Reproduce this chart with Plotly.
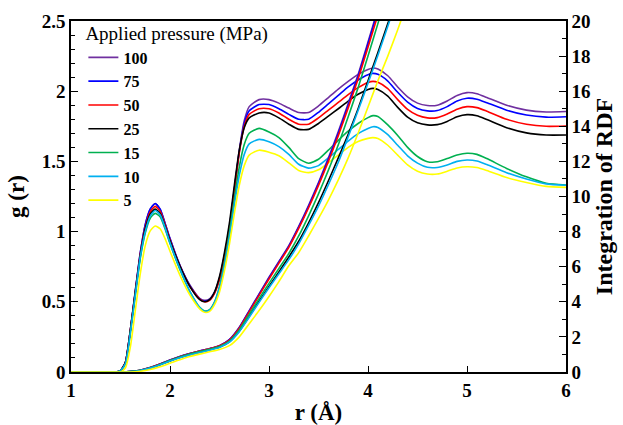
import plotly.graph_objects as go

# ---------------- data ----------------
PRESSURES = ["100", "75", "50", "25", "15", "10", "5"]
COLORS = ["#7030A0", "#0000FF", "#FF0000", "#000000", "#00B050", "#00B0F0", "#FFFF00"]

R_G = [1.0, 1.45, 1.5, 1.55, 1.6, 1.65, 1.7, 1.75, 1.8, 1.85,
       1.9, 1.95, 2.0, 2.1, 2.2, 2.3, 2.35, 2.4, 2.45, 2.5,
       2.55, 2.6, 2.65, 2.7, 2.75, 2.8, 2.9, 3.0, 3.1, 3.2,
       3.3, 3.4, 3.5, 3.6, 3.7, 3.8, 3.9, 4.0, 4.05, 4.1,
       4.2, 4.3, 4.4, 4.5, 4.6, 4.7, 4.8, 4.9, 5.0, 5.1,
       5.2, 5.4, 5.6, 5.8, 6.0]

G_100 = [0, 0, 0.01, 0.07, 0.3, 0.58, 0.85, 1.05, 1.16, 1.2,
         1.16, 1.06, 0.95, 0.76, 0.62, 0.525, 0.51, 0.52, 0.57, 0.67,
         0.83, 1.03, 1.3, 1.58, 1.79, 1.89, 1.94, 1.94, 1.915, 1.88,
         1.848, 1.848, 1.895, 1.955, 2.015, 2.07, 2.12, 2.155, 2.165, 2.158,
         2.11, 2.03, 1.96, 1.915, 1.898, 1.9, 1.93, 1.97, 1.99, 1.982,
         1.955, 1.9, 1.865, 1.852, 1.855]
G_75 = [0, 0, 0.01, 0.07, 0.3, 0.58, 0.85, 1.05, 1.16, 1.2,
        1.16, 1.06, 0.95, 0.76, 0.615, 0.52, 0.505, 0.515, 0.565, 0.665,
        0.825, 1.03, 1.3, 1.57, 1.77, 1.86, 1.905, 1.905, 1.875, 1.835,
        1.8, 1.8, 1.85, 1.91, 1.97, 2.03, 2.08, 2.118, 2.127, 2.12,
        2.072, 1.992, 1.922, 1.877, 1.86, 1.862, 1.89, 1.93, 1.95, 1.943,
        1.918, 1.865, 1.83, 1.815, 1.818]
G_50 = [0, 0, 0.01, 0.07, 0.3, 0.57, 0.84, 1.03, 1.14, 1.18,
        1.145, 1.05, 0.94, 0.755, 0.61, 0.52, 0.5, 0.51, 0.56, 0.66,
        0.82, 1.02, 1.29, 1.56, 1.75, 1.835, 1.875, 1.875, 1.845, 1.8,
        1.765, 1.765, 1.81, 1.865, 1.92, 1.975, 2.025, 2.062, 2.07, 2.063,
        2.018, 1.94, 1.87, 1.828, 1.81, 1.812, 1.838, 1.872, 1.89, 1.883,
        1.858, 1.8, 1.765, 1.75, 1.752]
G_25 = [0, 0, 0.01, 0.07, 0.3, 0.57, 0.83, 1.02, 1.125, 1.16,
        1.13, 1.04, 0.935, 0.755, 0.61, 0.515, 0.5, 0.515, 0.57, 0.68,
        0.85, 1.06, 1.33, 1.58, 1.74, 1.81, 1.845, 1.845, 1.81, 1.765,
        1.728, 1.728, 1.77, 1.822, 1.875, 1.93, 1.978, 2.012, 2.02, 2.012,
        1.965, 1.885, 1.815, 1.775, 1.76, 1.762, 1.785, 1.818, 1.833, 1.825,
        1.798, 1.74, 1.703, 1.688, 1.688]
G_15 = [0, 0, 0.01, 0.06, 0.28, 0.55, 0.81, 0.99, 1.095, 1.13,
        1.105, 1.02, 0.915, 0.73, 0.575, 0.46, 0.435, 0.445, 0.5, 0.61,
        0.78, 0.99, 1.23, 1.46, 1.62, 1.7, 1.735, 1.71, 1.67, 1.6,
        1.52, 1.487, 1.515, 1.58, 1.65, 1.715, 1.77, 1.812, 1.826, 1.82,
        1.76, 1.685, 1.6, 1.535, 1.498, 1.497, 1.52, 1.545, 1.558, 1.55,
        1.52, 1.45, 1.39, 1.345, 1.332]
G_10 = [0, 0, 0.01, 0.06, 0.28, 0.55, 0.82, 1.0, 1.11, 1.15,
        1.12, 1.03, 0.92, 0.735, 0.575, 0.46, 0.432, 0.44, 0.495, 0.6,
        0.76, 0.96, 1.19, 1.4, 1.55, 1.625, 1.657, 1.64, 1.605, 1.55,
        1.48, 1.452, 1.47, 1.525, 1.585, 1.645, 1.698, 1.735, 1.747, 1.742,
        1.69, 1.615, 1.54, 1.488, 1.458, 1.457, 1.475, 1.5, 1.51, 1.503,
        1.478, 1.42, 1.375, 1.34, 1.33]
G_5 = [0, 0, 0.0, 0.03, 0.18, 0.44, 0.7, 0.9, 1.005, 1.04,
       1.02, 0.95, 0.86, 0.69, 0.55, 0.45, 0.425, 0.432, 0.48, 0.57,
       0.72, 0.91, 1.13, 1.33, 1.47, 1.545, 1.58, 1.565, 1.54, 1.49,
       1.435, 1.42, 1.44, 1.49, 1.545, 1.6, 1.642, 1.664, 1.669, 1.663,
       1.615, 1.545, 1.475, 1.43, 1.41, 1.41, 1.43, 1.453, 1.462, 1.456,
       1.435, 1.385, 1.35, 1.322, 1.315]

R_N = [1.0, 1.5, 1.6, 1.7, 1.8, 1.9, 2.0, 2.1, 2.2, 2.3,
       2.4, 2.5, 2.6, 2.7, 2.8, 2.9, 3.0, 3.1, 3.2, 3.3,
       3.4, 3.5, 3.6, 3.7, 3.8, 3.9, 4.0, 4.1, 4.2, 4.3,
       4.4, 4.5]

N_100 = [0, 0, 0.02, 0.1, 0.25, 0.45, 0.68, 0.88, 1.05, 1.2,
         1.33, 1.5, 1.85, 2.55, 3.5, 4.45, 5.4, 6.3, 7.2, 8.3,
         9.5, 10.8, 12.2, 13.7, 15.3, 16.95, 18.8, 20.7, 22.6, 24.6,
         26.6, 28.6]
N_75 = [0, 0, 0.02, 0.1, 0.25, 0.45, 0.68, 0.88, 1.05, 1.2,
        1.33, 1.5, 1.84, 2.53, 3.47, 4.42, 5.36, 6.26, 7.16, 8.25,
        9.44, 10.73, 12.12, 13.6, 15.2, 16.85, 18.7, 20.6, 22.5, 24.5,
        26.5, 28.5]
N_50 = [0, 0, 0.02, 0.1, 0.25, 0.45, 0.67, 0.87, 1.04, 1.19,
        1.32, 1.49, 1.82, 2.5, 3.43, 4.37, 5.3, 6.2, 7.1, 8.18,
        9.36, 10.63, 12.0, 13.47, 15.05, 16.7, 18.5, 20.35, 22.2, 24.2,
        26.2, 28.2]
N_25 = [0, 0, 0.02, 0.09, 0.23, 0.42, 0.63, 0.82, 0.99, 1.13,
        1.26, 1.42, 1.72, 2.33, 3.17, 4.03, 4.87, 5.7, 6.55, 7.45,
        8.5, 9.65, 10.9, 12.2, 13.55, 15.0, 16.6, 18.2, 19.85, 21.5,
        23.2, 24.9]
N_15 = [0, 0, 0.02, 0.1, 0.24, 0.43, 0.65, 0.85, 1.02, 1.16,
        1.29, 1.45, 1.76, 2.4, 3.28, 4.18, 5.05, 5.9, 6.75, 7.75,
        8.9, 10.15, 11.5, 12.95, 14.55, 16.2, 18.0, 19.85, 21.8, 23.8,
        25.8, 27.8]
N_10 = [0, 0, 0.02, 0.09, 0.22, 0.41, 0.62, 0.81, 0.97, 1.11,
        1.24, 1.4, 1.7, 2.3, 3.12, 3.97, 4.8, 5.6, 6.4, 7.3,
        8.35, 9.45, 10.67, 11.95, 13.4, 14.9, 16.45, 18.05, 19.7, 21.4,
        23.1, 24.8]
N_5 = [0, 0, 0.0, 0.04, 0.14, 0.3, 0.5, 0.7, 0.88, 1.02,
       1.15, 1.28, 1.5, 2.0, 2.75, 3.5, 4.3, 5.15, 6.05, 6.8,
       7.75, 8.75, 9.8, 10.95, 12.2, 13.6, 15.1, 16.6, 18.0, 19.5,
       21.1, 22.7]

G_ALL = [G_100, G_75, G_50, G_25, G_15, G_10, G_5]
N_ALL = [N_100, N_75, N_50, N_25, N_15, N_10, N_5]

X_TICKS = [1, 2, 3, 4, 5, 6]
Y_TICKS = [0, 0.5, 1, 1.5, 2, 2.5]
Y_TICK_TEXT = ["0", "0.5", "1", "1.5", "2", "2.5"]
Y2_TICKS = [0, 2, 4, 6, 8, 10, 12, 14, 16, 18, 20]

# ---------------- figure ----------------
SERIF = "Liberation Serif, Times New Roman, serif"
fig = go.Figure()

for name, col, g in zip(PRESSURES, COLORS, G_ALL):
    fig.add_trace(go.Scatter(
        x=R_G, y=g, mode="lines", name=name, legendgroup=name,
        line=dict(color=col, width=1.6, shape="spline", smoothing=0.6),
        yaxis="y"))

for name, col, n in zip(PRESSURES, COLORS, N_ALL):
    fig.add_trace(go.Scatter(
        x=R_N, y=n, mode="lines", name=name, legendgroup=name, showlegend=False,
        line=dict(color=col, width=1.6, shape="spline", smoothing=0.6),
        yaxis="y2"))

axis_common = dict(showgrid=False, zeroline=False, showline=True,
                   linecolor="black", linewidth=1.5, ticks="inside",
                   tickcolor="black", tickwidth=1.2, automargin=False)

fig.update_layout(
    width=623, height=425,
    margin=dict(l=71, r=57, t=21, b=53),
    paper_bgcolor="white", plot_bgcolor="white",
    font=dict(family=SERIF, color="black"),
    showlegend=True,
    legend=dict(
        x=0.025, y=1.015, xanchor="left", yanchor="top",
        bgcolor="rgba(0,0,0,0)",
        title=dict(text="Applied pressure (MPa)",
                   font=dict(family=SERIF, size=19, color="black", weight="normal")),
        font=dict(family=SERIF, size=16, color="black", weight="bold"),
        tracegroupgap=0,
    ),
    xaxis=dict(
        range=[1, 6], tickvals=X_TICKS, ticklen=6, mirror=True,
        tickfont=dict(family=SERIF, size=19, weight="bold"),
        title=dict(text="r (Å)", standoff=5,
                   font=dict(family=SERIF, size=23, weight="bold")),
        **axis_common),
    yaxis=dict(
        range=[0, 2.5], tickvals=Y_TICKS, ticktext=Y_TICK_TEXT, ticklen=7, mirror=True,
        minor=dict(dtick=0.1, ticklen=4, ticks="inside", tickcolor="black", tickwidth=1),
        tickfont=dict(family=SERIF, size=19, weight="bold"),
        title=dict(text="g (r)", standoff=11,
                   font=dict(family=SERIF, size=23, weight="bold")),
        **axis_common),
    yaxis2=dict(
        range=[0, 20], tickvals=Y2_TICKS, ticklen=7, overlaying="y", side="right",
        minor=dict(dtick=1, ticklen=4, ticks="inside", tickcolor="black", tickwidth=1),
        tickfont=dict(family=SERIF, size=19, weight="bold"),
        title=dict(text="Integration of RDF", standoff=5,
                   font=dict(family=SERIF, size=24, weight="bold")),
        **axis_common),
)

fig.write_html("out.html")
